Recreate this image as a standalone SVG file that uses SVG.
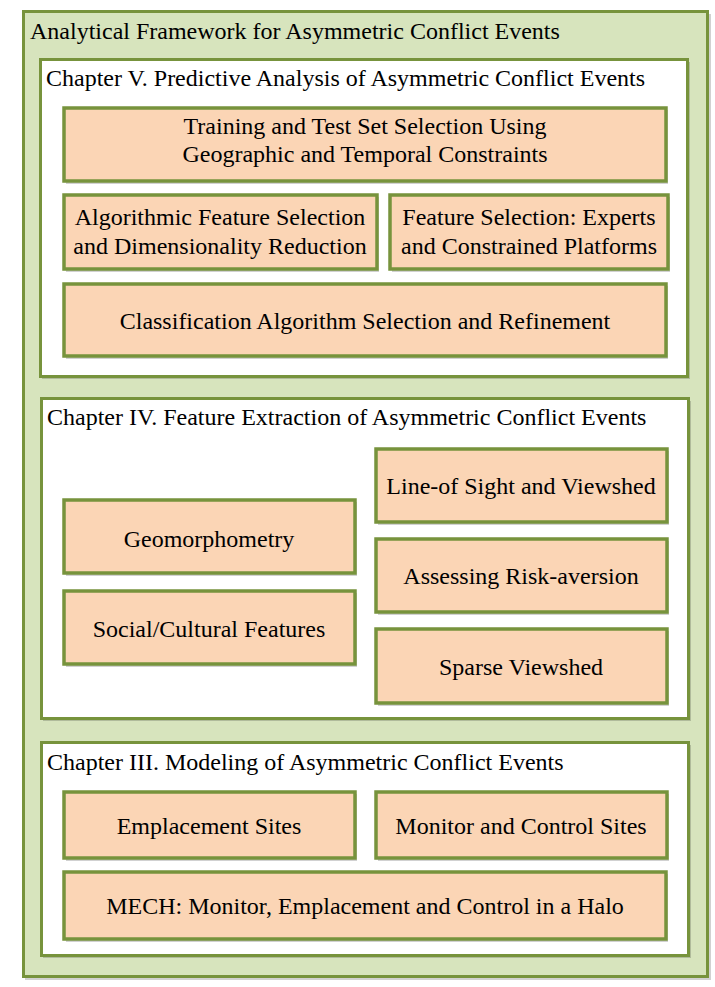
<svg xmlns="http://www.w3.org/2000/svg" width="715" height="987" viewBox="0 0 715 987">
<style>
.outer{fill:#d7e4bd;stroke:#77933c;stroke-width:3}
.chap{fill:#ffffff;stroke:#77933c;stroke-width:3}
.box{fill:#fbd5b5;stroke:#77933c;stroke-width:3.5}
.sh{fill:#000;fill-opacity:0.18}
.t{font-family:"Liberation Serif";font-size:24px;fill:#000}
.c{text-anchor:middle}
</style>
<g id="framework">
<rect class="sh" x="25" y="14" width="686" height="966"/>
<rect class="outer" x="23.5" y="11.5" width="684" height="965"/>
<text class="t" x="30" y="39">Analytical Framework for Asymmetric Conflict Events</text>
</g>
<g id="chapter5">
<rect class="sh" x="42" y="62" width="648" height="317"/>
<rect class="chap" x="40.5" y="59.5" width="647" height="317"/>
<text class="t" x="46" y="86">Chapter V. Predictive Analysis of Asymmetric Conflict Events</text>
</g>
<g id="training">
<rect class="sh" x="66" y="110" width="602" height="74"/>
<rect class="box" x="64" y="108" width="602" height="73"/>
<text class="t c" x="365" y="134">Training and Test Set Selection Using</text>
<text class="t c" x="365" y="162">Geographic and Temporal Constraints</text>
</g>
<g id="algorithmic">
<rect class="sh" x="66" y="197" width="313" height="75"/>
<rect class="box" x="64" y="195" width="313" height="74"/>
<text class="t c" x="220" y="225">Algorithmic Feature Selection</text>
<text class="t c" x="220" y="254">and Dimensionality Reduction</text>
</g>
<g id="experts">
<rect class="sh" x="392" y="197" width="278" height="75"/>
<rect class="box" x="390" y="195" width="278" height="74"/>
<text class="t c" x="529" y="225">Feature Selection: Experts</text>
<text class="t c" x="529" y="254">and Constrained Platforms</text>
</g>
<g id="classification">
<rect class="sh" x="66" y="286" width="602" height="73"/>
<rect class="box" x="64" y="284" width="602" height="72"/>
<text class="t c" x="365" y="329">Classification Algorithm Selection and Refinement</text>
</g>
<g id="chapter4">
<rect class="sh" x="43" y="401" width="648" height="320"/>
<rect class="chap" x="41.5" y="398.5" width="647" height="320"/>
<text class="t" x="47" y="425">Chapter IV. Feature Extraction of Asymmetric Conflict Events</text>
</g>
<g id="geomorphometry">
<rect class="sh" x="66" y="502" width="291" height="74"/>
<rect class="box" x="64" y="500" width="291" height="73"/>
<text class="t c" x="209" y="547">Geomorphometry</text>
</g>
<g id="social">
<rect class="sh" x="66" y="593" width="291" height="74"/>
<rect class="box" x="64" y="591" width="291" height="73"/>
<text class="t c" x="209" y="637">Social/Cultural Features</text>
</g>
<g id="lineofsight">
<rect class="sh" x="378" y="451" width="291" height="74"/>
<rect class="box" x="376" y="449" width="291" height="73"/>
<text class="t c" x="521" y="494">Line-of Sight and Viewshed</text>
</g>
<g id="riskaversion">
<rect class="sh" x="378" y="541" width="291" height="74"/>
<rect class="box" x="376" y="539" width="291" height="73"/>
<text class="t c" x="521" y="584">Assessing Risk-aversion</text>
</g>
<g id="sparse">
<rect class="sh" x="378" y="631" width="291" height="75"/>
<rect class="box" x="376" y="629" width="291" height="74"/>
<text class="t c" x="521" y="675">Sparse Viewshed</text>
</g>
<g id="chapter3">
<rect class="sh" x="43" y="745" width="648" height="213"/>
<rect class="chap" x="41.5" y="742.5" width="647" height="213"/>
<text class="t" x="47" y="770">Chapter III. Modeling of Asymmetric Conflict Events</text>
</g>
<g id="emplacement">
<rect class="sh" x="66" y="794" width="291" height="67"/>
<rect class="box" x="64" y="792" width="291" height="66"/>
<text class="t c" x="209" y="834">Emplacement Sites</text>
</g>
<g id="monitor">
<rect class="sh" x="378" y="794" width="291" height="67"/>
<rect class="box" x="376" y="792" width="291" height="66"/>
<text class="t c" x="521" y="834">Monitor and Control Sites</text>
</g>
<g id="mech">
<rect class="sh" x="66" y="874" width="602" height="68"/>
<rect class="box" x="64" y="872" width="602" height="67"/>
<text class="t c" x="365" y="914">MECH: Monitor, Emplacement and Control in a Halo</text>
</g>
<g id="connectors"></g>
</svg>
